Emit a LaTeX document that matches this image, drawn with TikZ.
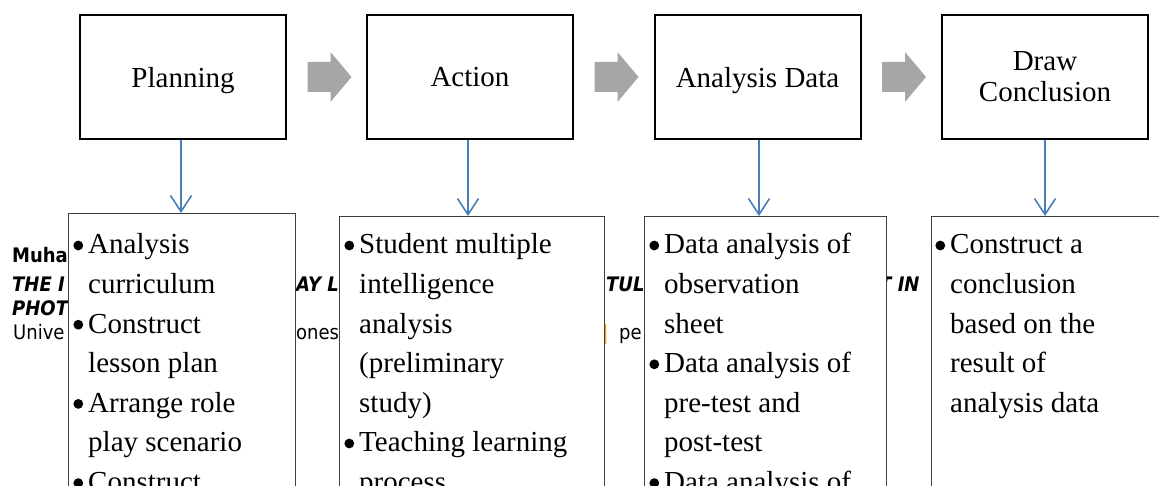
\documentclass[tikz,border=0pt]{standalone}
\usepackage{fontspec}
\setmainfont{Liberation Serif}
\newfontfamily\hdrfont[FakeStretch=0.9]{DejaVu Sans}
\usetikzlibrary{arrows.meta,calc}
\definecolor{arrowgray}{HTML}{A6A6A6}
\definecolor{flowblue}{HTML}{4A7EBB}
\definecolor{boxgray}{HTML}{3F3F3F}
\definecolor{barorange}{HTML}{F0A818}
\newcommand\bul{\leavevmode\llap{\tikz[baseline=-8.5pt]\fill[black] (0pt,0pt) circle[radius=4.9pt];\hspace{5pt}}}
\newcommand\grayarrow[1]{\fill[arrowgray] ($(#1.east)+(20.5,-15)$) -- ++(23,0) -- ++(0,-10) -- ++(21,25) -- ++(-21,25) -- ++(0,-10) -- ++(-23,0) -- cycle;}
\begin{document}
\begin{tikzpicture}[x=1pt,y=-1pt,
  topbox/.style={draw=black,line width=2pt,fill=white,minimum width=206pt,minimum height=124pt,inner sep=0pt,align=center,text depth=0pt,font=\fontsize{29}{31}\selectfont},
  lowbox/.style={draw=boxgray,line width=1.3pt,fill=white,anchor=north west,minimum height=330pt,inner sep=0pt},
  listtext/.style={anchor=base west,inner sep=0pt},
  hdr/.style={anchor=base west,inner sep=0pt,font=\hdrfont\fontsize{20}{22}\selectfont},
  flow/.style={draw=flowblue,line width=1.6pt,-{Straight Barb[length=16pt,width=21pt]}},
]
\useasboundingbox (0,0) rectangle (1159,486);
\clip (0,0) rectangle (1159,486);

% header text behind the boxes
\node[hdr] (h1) at (12,263) {\bfseries Muha};
\node[hdr] (h2) at (12,292) {\bfseries\itshape THE I};
\node[hdr] (h3) at (296,292) {\bfseries\itshape AY L};
\node[hdr] (h4) at (606,292) {\bfseries\itshape TUL};
\node[hdr] (h5) at (879,292) {\bfseries\itshape T IN};
\node[hdr] (h6) at (12,316) {\bfseries\itshape PHOT};
\node[hdr] (h7) at (13,339) {Unive};
\node[hdr] (h8) at (296,339) {ones};
\node[hdr,text=barorange] (h9) at (602,339) {\bfseries |};
\node[hdr] (h10) at (619,339) {pe};

% top boxes
\node[topbox] (p1) at (183,77) {Planning};
\node[topbox] (p2) at (470,77) {Action};
\node[topbox] (p3) at (757.5,77) {Analysis Data};
\node[topbox] (p4) at (1045,77) {Draw\\Conclusion};

% gray arrows
\grayarrow{p1}
\grayarrow{p2}
\grayarrow{p3}

% lower boxes
\node[lowbox,minimum width=227pt] (l1) at (68,213) {};
\node[lowbox,minimum width=265pt] (l2) at (339,216) {};
\node[lowbox,minimum width=242pt] (l3) at (644,216) {};
\node[lowbox,minimum width=260pt] (l4) at (931,216) {};

% lists
\node[listtext] (t1) at (88,254) {\parbox[t]{200pt}{\raggedright\fontsize{29}{39.6}\selectfont
\bul Analysis\\ curriculum\\ \bul Construct\\ lesson plan\\ \bul Arrange role\\ play scenario\\ \bul Construct}};
\node[listtext] (t2) at (359,254) {\parbox[t]{240pt}{\raggedright\fontsize{29}{39.6}\selectfont
\bul Student multiple\\ intelligence\\ analysis\\ (preliminary\\ study)\\ \bul Teaching learning\\ process}};
\node[listtext] (t3) at (664,254) {\parbox[t]{220pt}{\raggedright\fontsize{29}{39.6}\selectfont
\bul Data analysis of\\ observation\\ sheet\\ \bul Data analysis of\\ pre-test and\\ post-test\\ \bul Data analysis of}};
\node[listtext] (t4) at (950,254) {\parbox[t]{200pt}{\raggedright\fontsize{29}{39.6}\selectfont
\bul Construct a\\ conclusion\\ based on the\\ result of\\ analysis data}};

% blue arrows
\draw[flow] ([xshift=-2pt]p1.south) -- ([xshift=-2pt]p1.south |- l1.north);
\draw[flow] ([xshift=-2pt]p2.south) -- ([xshift=-2pt]p2.south |- l2.north);
\draw[flow] ([xshift=1.5pt]p3.south) -- ([xshift=1.5pt]p3.south |- l3.north);
\draw[flow] (p4.south) -- (p4.south |- l4.north);
\end{tikzpicture}
\end{document}
